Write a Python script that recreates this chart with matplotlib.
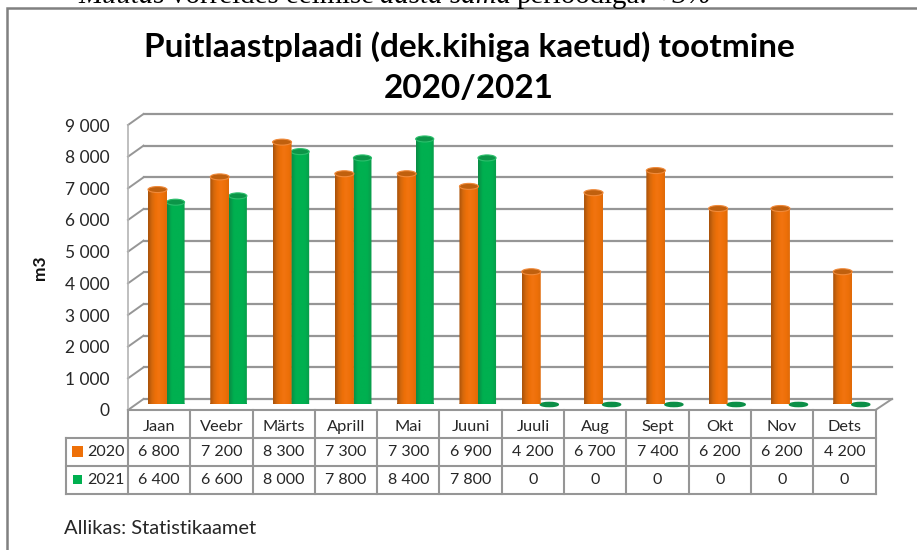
import matplotlib
matplotlib.use("Agg")
import matplotlib.pyplot as plt
import numpy as np
from matplotlib.colors import LinearSegmentedColormap
from matplotlib.patches import Ellipse, Rectangle
from matplotlib.path import Path
from matplotlib.transforms import Affine2D

months = ["Jaan", "Veebr", "Märts", "Aprill", "Mai", "Juuni", "Juuli", "Aug", "Sept", "Okt", "Nov", "Dets"]
years = ["2020", "2021"]
values_2020 = [6800, 7200, 8300, 7300, 7300, 6900, 4200, 6700, 7400, 6200, 6200, 4200]
values_2021 = [6400, 6600, 8000, 7800, 8400, 7800, 0, 0, 0, 0, 0, 0]
y_ticks = [0, 1000, 2000, 3000, 4000, 5000, 6000, 7000, 8000, 9000]
top_words = [("Müütas ", "italic"), ("võrreldes eelmise ", "normal"), ("aasta sama ", "italic"),
             ("perioodiga: ", "normal"), ("+3%", "italic")]

W, H = 917, 550
GREY = "#969696"
ORANGE = "#EE7008"
GREEN = "#00B050"
TEXT = "#262626"

plt.rcParams["font.family"] = ["Lato", "DejaVu Sans"]


def fmt(v):
    return f"{v:,}".replace(",", " ")


def make_axes(fig, x0, x1, y_bottom, y_top):
    # pixel box -> figure fractions
    ax = fig.add_axes([x0 / W, 1 - y_bottom / H, (x1 - x0) / W, (y_bottom - y_top) / H])
    ax.set_xlim(0, 12)
    ax.set_ylim(0, 9000)
    ax.patch.set_alpha(0)
    for s in ax.spines.values():
        s.set_visible(False)
    return ax


def draw_cylinders(ax, values, center, width, cmap, top_color, rim_color, flat_color, z):
    ell_h = 190
    for i, v in enumerate(values):
        x = i + center
        if v == 0:
            ax.add_patch(Ellipse((x, 0), width, ell_h * 0.7, color=flat_color, zorder=z, clip_on=False))
            continue
        rect = Path.unit_rectangle().transformed(Affine2D().scale(width, v).translate(x - width / 2, 0))
        bottom = Path.unit_circle().transformed(Affine2D().scale(width / 2, ell_h / 2).translate(x, 0))
        im = ax.imshow(np.linspace(0, 1, 64).reshape(1, -1), extent=(x - width / 2, x + width / 2, -ell_h, v),
                       cmap=cmap, aspect="auto", zorder=z, interpolation="bilinear")
        im.set_clip_path(Path.make_compound_path(rect, bottom), ax.transData)
        ax.add_patch(Ellipse((x, v), width, ell_h, facecolor=top_color, edgecolor=rim_color, lw=0.8,
                             zorder=z + 0.1, clip_on=False))


fig = plt.figure(figsize=(W / 100, H / 100), dpi=100)

# back wall with the gridlines
ax_back = make_axes(fig, 143.5, 892, 399, 114)
ax_back.set_xticks([])
ax_back.set_yticks(y_ticks)
ax_back.set_yticklabels([])
ax_back.tick_params(length=0)
ax_back.grid(axis="y", color=GREY, lw=1.6, clip_on=False)
ax_back.set_axisbelow(True)

# front plane carries the value axis
ax_front = make_axes(fig, 128, 875.5, 410, 125)
ax_front.set_xticks([])
ax_front.set_yticks(y_ticks)
ax_front.set_yticklabels([fmt(v) for v in y_ticks], fontsize=12.5, color=TEXT)
ax_front.tick_params(axis="y", length=0, pad=13.5)
ax_front.set_ylabel("m3", fontsize=12.5, fontweight="bold", color="#111111")
ax_front.yaxis.set_label_coords(-0.107, 0.498)
ax_front.spines["left"].set_visible(True)
ax_front.spines["left"].set_color("#B4B4B4")
ax_front.spines["left"].set_linewidth(1.2)

# bars stand between the two planes
ax_bars = make_axes(fig, 136, 883.5, 404.5, 120)
ax_bars.set_xticks([])
ax_bars.set_yticks([])
cmap_o = LinearSegmentedColormap.from_list("o", ["#A8520A", "#D5680C", ORANGE, "#F27410", ORANGE, "#E06A08"])
cmap_g = LinearSegmentedColormap.from_list("g", ["#0A8A44", GREEN, GREEN, GREEN, "#0A9A4A"])
draw_cylinders(ax_bars, values_2021, 0.635, 0.29, cmap_g, "#0C9548", "#2CBF6C", "#0B8F47", 3)
draw_cylinders(ax_bars, values_2020, 0.345, 0.305, cmap_o, "#C0600E", "#F08A3A", ORANGE, 4)
ax_bars.set_xlim(0, 12)
ax_bars.set_ylim(0, 9000)

# overlay in pixels: frame, wall diagonals, table, texts
ov = fig.add_axes([0, 0, 1, 1], zorder=-1)
ov.set_xlim(0, W)
ov.set_ylim(H, 0)
ov.axis("off")
ax_top = fig.add_axes([0, 0, 1, 1], zorder=10)
ax_top.set_xlim(0, W)
ax_top.set_ylim(H, 0)
ax_top.axis("off")

ov.plot([7, 7, W], [H, 8, 8], color="#808080", lw=1.8, solid_joinstyle="miter")
for v in y_ticks:
    y = 410 - v / 9000 * 285
    ov.plot([128, 143.5], [y, y - 11], color=GREY, lw=1.4)
ov.plot([875.5, 892], [410, 399], color=GREY, lw=1.4)

col_w = (875.5 - 128) / 12
rows = [410, 438, 466, 494]
ln = dict(color=GREY, lw=1.5, solid_capstyle="projecting")
for i in range(13):
    x = 128 + i * col_w
    ax_top.plot([x, x], [410, 494], **ln)
ax_top.plot([128, 875.5], [410, 410], **ln)
for y in rows[1:]:
    ax_top.plot([66, 875.5], [y, y], **ln)
ax_top.plot([66, 66], [438, 494], **ln)

for i, m in enumerate(months):
    xc = 128 + (i + 0.5) * col_w
    ax_top.text(xc, 427, m, ha="center", va="center", fontsize=11.8, color=TEXT)
    ax_top.text(xc, 452, fmt(values_2020[i]), ha="center", va="center", fontsize=11.5, color=TEXT)
    ax_top.text(xc, 480, fmt(values_2021[i]), ha="center", va="center", fontsize=11.5, color=TEXT)

for name, col, yc, sz in zip(years, [ORANGE, GREEN], [451, 479.5], [11, 9.5]):
    ax_top.add_patch(Rectangle((77.5 - sz / 2, yc - sz / 2), sz, sz, color=col, lw=0))
    ax_top.text(87, yc + 1, name, ha="left", va="center", fontsize=11.5, color=TEXT)

ax_top.text(469, 47, "Puitlaastplaadi (dek.kihiga kaetud) tootmine", ha="center", va="center",
            fontsize=24, fontweight="bold", color="black")
ax_top.text(469, 88, "2020/2021", ha="center", va="center", fontsize=24, fontweight="bold", color="black")
ax_top.text(64, 528, "Allikas: Statistikaamet", ha="left", va="center", fontsize=14.5, color=TEXT)

# sentence above the chart, cut by the picture edge as in the source
x_pos = 78
renderer = fig.canvas.get_renderer()
for word, style in top_words:
    t = ax_top.text(x_pos, 3, word.rstrip(), ha="left", va="baseline", fontsize=20.8, style=style,
                    family="Liberation Serif", color="black")
    x_pos += t.get_window_extent(renderer).width + (6 if word.endswith(" ") else 0)

fig.savefig("out.png", dpi=100)
